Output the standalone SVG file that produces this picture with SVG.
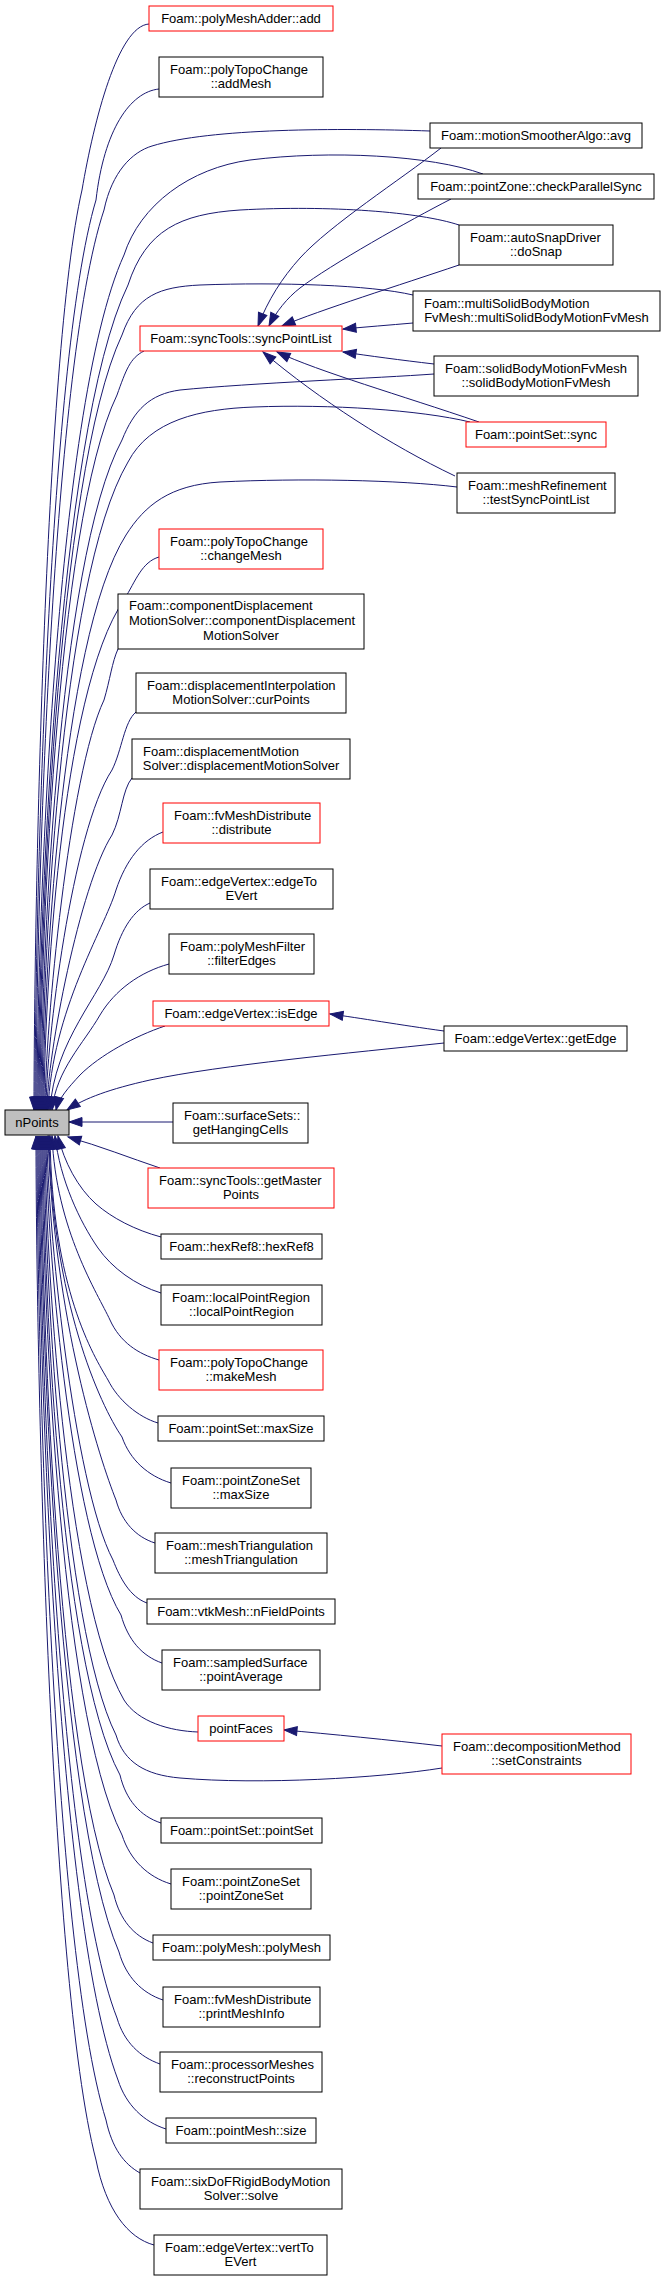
<svg xmlns="http://www.w3.org/2000/svg" width="661" height="2280" viewBox="0 0 661 2280">
<style>
.n rect{fill:#fff;stroke:#000;stroke-width:1}
.r rect{fill:#fff;stroke:#ff0000;stroke-width:1}
.g rect{fill:#bfbfbf;stroke:#000;stroke-width:1}
text{font-family:"Liberation Sans",Arial,sans-serif;font-size:13px;fill:#000}
.c{text-anchor:middle}
.l{text-anchor:start}
#edges path{fill:none;stroke:#191970;stroke-width:1;marker-end:url(#arr)}
</style>
<defs>
<marker id="arr" markerUnits="userSpaceOnUse" markerWidth="14" markerHeight="10" refX="13" refY="4.5" orient="auto" overflow="visible">
<path d="M0,0 L13,4.5 L0,9 z" fill="#191970" stroke="#191970" stroke-width="1"/>
</marker>
</defs>
<rect width="661" height="2280" fill="#fff"/>
<g id="edges">
<path d="M149,24 C118,26 94,120 82,190 C44,356 34,926 34,1110"/>
<path d="M159,89 C130,92 104,130 96,200 C47,364 35,928 35,1110"/>
<path d="M430,131 C340,128 210,128 152,146 C132,152 112,172 104,210 C50,372 36,930 36,1110"/>
<path d="M483,174 C430,155 330,150 250,160 C190,168 140,205 124,255 C54,409 37,939 37,1110"/>
<path d="M459,225 C420,212 330,205 240,210 C180,214 146,230 128,285 C56,434 38,945 38,1110"/>
<path d="M413,295 C370,285 280,282 200,285 C160,287 136,295 122,335 C56,475 39,955 39,1110"/>
<path d="M144,351 C130,358 126,370 117,395 C55,524 40,967 40,1110"/>
<path d="M434,374 C380,378 250,383 180,390 C150,394 134,410 122,440 C57,561 41,976 41,1110"/>
<path d="M470,422 C420,410 330,404 254,407 C200,409 150,420 128,462 C59,579 42,980 42,1110"/>
<path d="M457,487 C400,480 300,478 220,482 C170,485 145,505 126,535 C60,639 43,995 43,1110"/>
<path d="M159,557 C142,562 136,580 124,600 C60,692 44,1008 44,1110"/>
<path d="M118,649 C112,662 110,680 104,700 C69,774 45,1028 45,1110"/>
<path d="M136,712 C124,722 122,750 112,770 C72,831 46,1042 46,1110"/>
<path d="M132,778 C122,790 122,815 112,835 C80,885 47,1055 47,1110"/>
<path d="M163,832 C142,840 126,860 116,890 C104,930 52,1010 48,1110"/>
<path d="M150,903 C134,910 122,928 114,955 C102,995 54,1040 50,1110"/>
<path d="M169,964 C140,972 115,990 100,1015 C84,1043 56,1070 52,1110"/>
<path d="M165,1026 C135,1036 100,1055 80,1075 C68,1088 59,1098 56,1110"/>
<path d="M444,1043 C350,1053 220,1065 150,1080 C110,1089 85,1098 67,1110"/>
<path d="M173,1122 L69,1122"/>
<path d="M160,1168 C130,1158 100,1146 68,1137"/>
<path d="M161,1237 C135,1230 112,1218 96,1204 C78,1188 64,1162 58,1136"/>
<path d="M161,1293 C135,1285 112,1268 98,1248 C80,1222 60,1180 55,1136"/>
<path d="M159,1360 C138,1354 120,1342 110,1320 C98,1294 56,1230 52,1136"/>
<path d="M158,1423 C138,1417 118,1400 108,1380 C94,1356 52,1290 50,1136"/>
<path d="M171,1483 C148,1476 130,1460 122,1437 C100,1405 52,1300 49,1136"/>
<path d="M155,1543 C136,1537 122,1522 116,1500 C100,1460 54,1320 48,1136"/>
<path d="M147,1603 C130,1597 120,1578 113,1560 C73,1484 47,1220 47,1136"/>
<path d="M162,1663 C142,1656 128,1640 121,1615 C69,1529 46,1231 46,1136"/>
<path d="M198,1732 C170,1731 138,1722 124,1700 C65,1598 45,1248 45,1136"/>
<path d="M442,1768 C380,1778 260,1785 180,1778 C145,1775 124,1762 116,1735 C62,1627 44,1255 44,1136"/>
<path d="M161,1823 C140,1816 126,1800 120,1775 C58,1660 43,1263 43,1136"/>
<path d="M171,1884 C148,1877 130,1860 122,1835 C58,1709 42,1275 42,1136"/>
<path d="M153,1943 C134,1936 120,1920 114,1895 C56,1758 41,1287 41,1136"/>
<path d="M163,2000 C142,1993 126,1977 119,1952 C56,1805 40,1298 40,1136"/>
<path d="M160,2064 C140,2057 124,2042 117,2018 C55,1859 39,1312 39,1136"/>
<path d="M166,2129 C144,2122 126,2105 118,2080 C54,1910 38,1324 38,1136"/>
<path d="M140,2173 C124,2164 112,2148 106,2120 C51,1943 37,1332 37,1136"/>
<path d="M154,2245 C128,2238 106,2210 96,2160 C48,1976 36,1340 36,1136"/>
<path d="M441,148 C400,180 330,225 300,258 C282,278 268,300 258,326"/>
<path d="M451,199 C410,220 330,265 300,288 C287,298 276,312 269,326"/>
<path d="M459,265 C400,285 320,310 282,326"/>
<path d="M413,323 C390,325 365,327 343,329"/>
<path d="M434,364 C400,360 370,356 343,352"/>
<path d="M479,422 C400,395 320,372 277,352"/>
<path d="M455,476 C390,445 320,400 263,352"/>
<path d="M444,1031 C400,1025 360,1018 330,1014"/>
<path d="M442,1746 C390,1740 330,1734 284,1730"/>
</g>
<g id="n1" class="r"><rect x="149" y="6" width="184" height="25"/><text class="c" x="241" y="23">Foam::polyMeshAdder::add</text></g>
<g id="n2" class="n"><rect x="159" y="57" width="164" height="40"/><text class="l" x="170" y="74">Foam::polyTopoChange</text><text class="c" x="241" y="88">::addMesh</text></g>
<g id="n3" class="n"><rect x="430" y="123" width="212" height="25"/><text class="c" x="536" y="140">Foam::motionSmootherAlgo::avg</text></g>
<g id="n4" class="n"><rect x="418" y="174" width="236" height="25"/><text class="c" x="536" y="191">Foam::pointZone::checkParallelSync</text></g>
<g id="n5" class="n"><rect x="459" y="225" width="154" height="40"/><text class="l" x="470" y="242">Foam::autoSnapDriver</text><text class="c" x="536" y="256">::doSnap</text></g>
<g id="n6" class="r"><rect x="140" y="326" width="202" height="25"/><text class="c" x="241" y="343">Foam::syncTools::syncPointList</text></g>
<g id="n7" class="n"><rect x="413" y="291" width="247" height="40"/><text class="l" x="424" y="308">Foam::multiSolidBodyMotion</text><text class="c" x="536.5" y="322">FvMesh::multiSolidBodyMotionFvMesh</text></g>
<g id="n8" class="n"><rect x="434" y="356" width="204" height="40"/><text class="l" x="445" y="373">Foam::solidBodyMotionFvMesh</text><text class="c" x="536" y="387">::solidBodyMotionFvMesh</text></g>
<g id="n9" class="r"><rect x="466" y="422" width="140" height="25"/><text class="c" x="536" y="439">Foam::pointSet::sync</text></g>
<g id="n10" class="n"><rect x="457" y="473" width="158" height="40"/><text class="l" x="468" y="490">Foam::meshRefinement</text><text class="c" x="536" y="504">::testSyncPointList</text></g>
<g id="n11" class="r"><rect x="159" y="529" width="164" height="40"/><text class="l" x="170" y="546">Foam::polyTopoChange</text><text class="c" x="241" y="560">::changeMesh</text></g>
<g id="n12" class="n"><rect x="118" y="594" width="246" height="55"/><text class="l" x="129" y="610">Foam::componentDisplacement</text><text class="l" x="129" y="625">MotionSolver::componentDisplacement</text><text class="c" x="241" y="640">MotionSolver</text></g>
<g id="n13" class="n"><rect x="136" y="673" width="210" height="40"/><text class="l" x="147" y="690">Foam::displacementInterpolation</text><text class="c" x="241" y="704">MotionSolver::curPoints</text></g>
<g id="n14" class="n"><rect x="132" y="739" width="218" height="40"/><text class="l" x="143" y="756">Foam::displacementMotion</text><text class="c" x="241" y="770">Solver::displacementMotionSolver</text></g>
<g id="n15" class="r"><rect x="163" y="803" width="157" height="40"/><text class="l" x="174" y="820">Foam::fvMeshDistribute</text><text class="c" x="241.5" y="834">::distribute</text></g>
<g id="n16" class="n"><rect x="150" y="869" width="183" height="40"/><text class="l" x="161" y="886">Foam::edgeVertex::edgeTo</text><text class="c" x="241.5" y="900">EVert</text></g>
<g id="n17" class="n"><rect x="169" y="934" width="145" height="40"/><text class="l" x="180" y="951">Foam::polyMeshFilter</text><text class="c" x="241.5" y="965">::filterEdges</text></g>
<g id="n18" class="r"><rect x="153" y="1001" width="176" height="25"/><text class="c" x="241" y="1018">Foam::edgeVertex::isEdge</text></g>
<g id="n19" class="n"><rect x="444" y="1026" width="183" height="25"/><text class="c" x="535.5" y="1043">Foam::edgeVertex::getEdge</text></g>
<g id="n20" class="g"><rect x="5" y="1110" width="64" height="25"/><text class="c" x="37" y="1127">nPoints</text></g>
<g id="n21" class="n"><rect x="173" y="1103" width="135" height="40"/><text class="l" x="184" y="1120">Foam::surfaceSets::</text><text class="c" x="240.5" y="1134">getHangingCells</text></g>
<g id="n22" class="r"><rect x="148" y="1168" width="186" height="40"/><text class="l" x="159" y="1185">Foam::syncTools::getMaster</text><text class="c" x="241" y="1199">Points</text></g>
<g id="n23" class="n"><rect x="161" y="1234" width="161" height="25"/><text class="c" x="241.5" y="1251">Foam::hexRef8::hexRef8</text></g>
<g id="n24" class="n"><rect x="161" y="1285" width="161" height="40"/><text class="l" x="172" y="1302">Foam::localPointRegion</text><text class="c" x="241.5" y="1316">::localPointRegion</text></g>
<g id="n25" class="r"><rect x="159" y="1350" width="164" height="40"/><text class="l" x="170" y="1367">Foam::polyTopoChange</text><text class="c" x="241" y="1381">::makeMesh</text></g>
<g id="n26" class="n"><rect x="158" y="1416" width="166" height="25"/><text class="c" x="241" y="1433">Foam::pointSet::maxSize</text></g>
<g id="n27" class="n"><rect x="171" y="1468" width="140" height="40"/><text class="l" x="182" y="1485">Foam::pointZoneSet</text><text class="c" x="241" y="1499">::maxSize</text></g>
<g id="n28" class="n"><rect x="155" y="1533" width="172" height="40"/><text class="l" x="166" y="1550">Foam::meshTriangulation</text><text class="c" x="241" y="1564">::meshTriangulation</text></g>
<g id="n29" class="n"><rect x="147" y="1599" width="188" height="25"/><text class="c" x="241" y="1616">Foam::vtkMesh::nFieldPoints</text></g>
<g id="n30" class="n"><rect x="162" y="1650" width="158" height="40"/><text class="l" x="173" y="1667">Foam::sampledSurface</text><text class="c" x="241" y="1681">::pointAverage</text></g>
<g id="n31" class="r"><rect x="198" y="1716" width="86" height="25"/><text class="c" x="241" y="1733">pointFaces</text></g>
<g id="n32" class="r"><rect x="442" y="1734" width="189" height="40"/><text class="l" x="453" y="1751">Foam::decompositionMethod</text><text class="c" x="536.5" y="1765">::setConstraints</text></g>
<g id="n33" class="n"><rect x="161" y="1818" width="161" height="25"/><text class="c" x="241.5" y="1835">Foam::pointSet::pointSet</text></g>
<g id="n34" class="n"><rect x="171" y="1869" width="140" height="40"/><text class="l" x="182" y="1886">Foam::pointZoneSet</text><text class="c" x="241" y="1900">::pointZoneSet</text></g>
<g id="n35" class="n"><rect x="153" y="1935" width="177" height="25"/><text class="c" x="241.5" y="1952">Foam::polyMesh::polyMesh</text></g>
<g id="n36" class="n"><rect x="163" y="1987" width="157" height="40"/><text class="l" x="174" y="2004">Foam::fvMeshDistribute</text><text class="c" x="241.5" y="2018">::printMeshInfo</text></g>
<g id="n37" class="n"><rect x="160" y="2052" width="162" height="40"/><text class="l" x="171" y="2069">Foam::processorMeshes</text><text class="c" x="241" y="2083">::reconstructPoints</text></g>
<g id="n38" class="n"><rect x="166" y="2118" width="150" height="25"/><text class="c" x="241" y="2135">Foam::pointMesh::size</text></g>
<g id="n39" class="n"><rect x="140" y="2169" width="202" height="40"/><text class="l" x="151" y="2186">Foam::sixDoFRigidBodyMotion</text><text class="c" x="241" y="2200">Solver::solve</text></g>
<g id="n40" class="n"><rect x="154" y="2235" width="173" height="40"/><text class="l" x="165" y="2252">Foam::edgeVertex::vertTo</text><text class="c" x="240.5" y="2266">EVert</text></g>
</svg>
